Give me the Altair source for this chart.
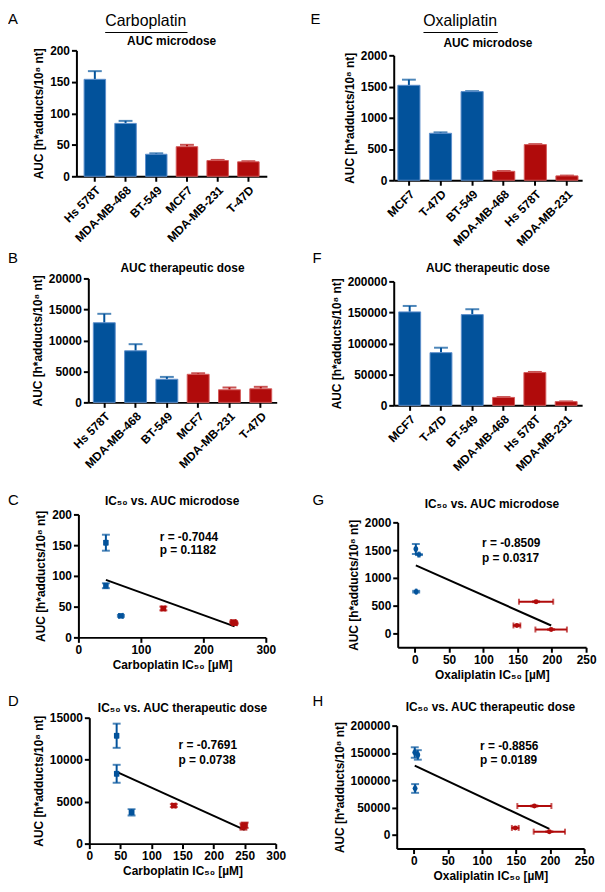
import altair as alt
import pandas as pd

# ---------------- data ----------------
carbo_cells = ["Hs 578T", "MDA-MB-468", "BT-549", "MCF7", "MDA-MB-231", "T-47D"]
carbo_groups = ["sensitive", "sensitive", "sensitive", "resistant", "resistant", "resistant"]
carbo_auc_micro = [154, 84, 35, 47, 25, 23]
carbo_auc_micro_err = [13, 4, 1.5, 3, 1, 1]
carbo_auc_ther = [12850, 8320, 3730, 4530, 2030, 2190]
carbo_auc_ther_err = [1440, 1070, 380, 170, 370, 320]
carbo_ic50 = [44, 44, 68, 136, 248, 250]
carbo_ic50_err = [2, 2, 3, 3, 4, 4]

oxa_cells = ["MCF7", "T-47D", "BT-549", "MDA-MB-468", "Hs 578T", "MDA-MB-231"]
oxa_groups = ["sensitive", "sensitive", "sensitive", "resistant", "resistant", "resistant"]
oxa_auc_micro = [1520, 752, 1419, 143, 571, 70]
oxa_auc_micro_err = [90, 15, 8, 5, 8, 5]
oxa_auc_ther = [150800, 85000, 146400, 12800, 52900, 6000]
oxa_auc_ther_err = [9600, 8000, 8700, 600, 1000, 400]
oxa_ic50 = [1.5, 2, 6, 149, 177, 199]
oxa_ic50_err = [0.5, 0.5, 1, 5, 25, 23]

# tick labels
carbo_micro_ticks = [0, 50, 100, 150, 200]
carbo_ther_ticks = [0, 5000, 10000, 15000, 20000]
oxa_micro_ticks = [0, 500, 1000, 1500, 2000]
oxa_ther_ticks = [0, 50000, 100000, 150000, 200000]
carbo_c_xticks = [0, 100, 200, 300]
carbo_c_yticks = [0, 50, 100, 150, 200]
carbo_d_xticks = [0, 50, 100, 150, 200, 250, 300]
carbo_d_yticks = [0, 5000, 10000, 15000]
oxa_xticks = [0, 50, 100, 150, 200, 250]
oxa_g_yticks = [0, 500, 1000, 1500, 2000]
oxa_h_yticks = [0, 50000, 100000, 150000, 200000]

# axis extents
carbo_c_xdom = [0, 300]
carbo_c_ydom = [0, 200]
carbo_d_xdom = [0, 300]
carbo_d_ydom = [0, 15000]
oxa_xdom = [-25, 250]
oxa_g_ydom = [-250, 2000]
oxa_h_ydom = [-25000, 200000]

# correlation statistics
stats_c = ["r  = -0.7044", "p = 0.1182"]
stats_d = ["r  = -0.7691", "p = 0.0738"]
stats_g = ["r  = -0.8509", "p = 0.0317"]
stats_h = ["r  = -0.8856", "p = 0.0189"]

# ---------------- style ----------------
FONT = "Liberation Sans, Arial, sans-serif"
BLUE = "#02529b"
RED = "#b00b0b"
BLUE_EDGE = "#5d8fcb"
RED_EDGE = "#d35a5a"
YTITLE = "AUC [h*adducts/10\u2078 nt]"

# grid cells (absolute page pixels)
COL_L = [8, 300]
COL_W = [292, 297]
ROW_T = [8, 246, 484, 690]
ROW_H = [238, 238, 206, 194]

color = alt.Color("grp:N", scale=alt.Scale(domain=["sensitive", "resistant"], range=[BLUE, RED]), legend=None)
stroke = alt.Stroke("grp:N", scale=alt.Scale(domain=["sensitive", "resistant"], range=[BLUE_EDGE, RED_EDGE]), legend=None)

one = pd.DataFrame({"k": [0]})


def frame(g):
    """offsets of the plot rectangle inside its grid cell"""
    ox = g["left"] - COL_L[g["col"]]
    oy = g["top"] - ROW_T[g["row"]]
    return ox, oy, COL_W[g["col"]], ROW_H[g["row"]]


def txt(s, x, y, size=12, weight="bold", align="left"):
    return alt.Chart(pd.DataFrame({"t": [s]})).mark_text(
        font=FONT, fontSize=size, fontWeight=weight, align=align, baseline="alphabetic", color="black"
    ).encode(text="t:N", x=alt.value(x), y=alt.value(y))


def decorations(g, title, letter):
    ox, oy, _, _ = frame(g)
    layers = [
        txt(letter, ox + g["lx"], oy + g["ly"], size=15, weight="normal"),
        txt(title, ox + g["w"] / 2, oy + g["ty"], size=12, weight="bold", align="center"),
    ]
    if "heading" in g:
        hx, hy, u1, u2, uy = g["hpos"]
        layers.append(txt(g["heading"], ox + hx, oy + hy, size=16, weight="normal", align="center"))
        layers.append(alt.Chart(one).mark_rule(color="black", strokeWidth=1.2).encode(
            x=alt.value(ox + u1), x2=alt.value(ox + u2), y=alt.value(oy + uy)))
    return layers


def bar_panel(cells, groups, vals, errs, yticks, title, letter, g):
    ox, oy, cw, ch = frame(g)
    df = pd.DataFrame({"cell": cells, "grp": groups, "auc": vals, "err": errs})
    base = alt.Chart(df).transform_calculate(hi="datum.auc + datum.err")
    xenc = alt.X("cell:N", sort=cells,
                 scale=alt.Scale(paddingInner=0.3, paddingOuter=g["po"], range=[ox, ox + g["w"]]),
                 axis=alt.Axis(title=None, labelAngle=-45, labelOverlap=False, labelPadding=3,
                               offset=oy + g["h"] - ch))

    def Y(f):
        return alt.Y(f + ":Q", scale=alt.Scale(domain=[yticks[0], yticks[-1]], nice=False,
                                               range=[oy + g["h"], oy]),
                     axis=alt.Axis(values=yticks, title=YTITLE, format="d", labelFlush=False,
                                   offset=-ox))

    rule = base.mark_rule(strokeWidth=2).encode(x=xenc, y=Y("auc"), y2="hi:Q", color=color)
    cap = base.mark_tick(orient="horizontal", size=14, thickness=2).encode(x=xenc, y=Y("hi"), color=color)
    bars = base.mark_bar(strokeWidth=1).encode(x=xenc, y=Y("auc"), color=color, stroke=stroke)
    return alt.layer(rule, cap, bars, *decorations(g, title, letter)).properties(width=cw, height=ch)


def scatter_panel(cells, groups, ic50, ic50_err, auc, auc_err, xticks, xdom, yticks, ydom,
                  xtitle, title, letter, stats, shape, size, g):
    ox, oy, cw, ch = frame(g)
    df = pd.DataFrame({"cell": cells, "grp": groups, "ic50": ic50, "xe": ic50_err,
                       "auc": auc, "ye": auc_err})
    base = alt.Chart(df).transform_calculate(
        xlo="datum.ic50 - datum.xe", xhi="datum.ic50 + datum.xe",
        ylo="datum.auc - datum.ye", yhi="datum.auc + datum.ye")

    def X(f):
        return alt.X(f + ":Q", scale=alt.Scale(domain=xdom, nice=False, zero=False, range=[ox, ox + g["w"]]),
                     axis=alt.Axis(values=xticks, title=xtitle, format="d", labelFlush=False,
                                   labelOverlap=False, offset=oy + g["h"] - ch))

    def Y(f):
        return alt.Y(f + ":Q", scale=alt.Scale(domain=ydom, nice=False, zero=False, range=[oy + g["h"], oy]),
                     axis=alt.Axis(values=yticks, title=YTITLE, format="d", labelFlush=False,
                                   labelOverlap=False, offset=-ox))

    reg = alt.Chart(df).transform_regression("ic50", "auc").mark_line(
        color="black", strokeWidth=2).encode(x=X("ic50"), y=Y("auc"))
    xrule = base.mark_rule(strokeWidth=2).encode(x=X("xlo"), x2="xhi:Q", y=Y("auc"), color=color)
    xcap1 = base.mark_tick(orient="vertical", size=6, thickness=2).encode(x=X("xlo"), y=Y("auc"), color=color)
    xcap2 = base.mark_tick(orient="vertical", size=6, thickness=2).encode(x=X("xhi"), y=Y("auc"), color=color)
    yrule = base.mark_rule(strokeWidth=2).encode(x=X("ic50"), y=Y("ylo"), y2="yhi:Q", color=color)
    ycap1 = base.mark_tick(orient="horizontal", size=8, thickness=2).encode(x=X("ic50"), y=Y("ylo"), color=color)
    ycap2 = base.mark_tick(orient="horizontal", size=8, thickness=2).encode(x=X("ic50"), y=Y("yhi"), color=color)
    pts = base.mark_point(filled=True, shape=shape, size=size, opacity=1).encode(
        x=X("ic50"), y=Y("auc"), color=color)
    sx, sy1, sy2 = g["spos"]
    layers = [reg, xrule, xcap1, xcap2, yrule, ycap1, ycap2, pts,
              txt(stats[0], ox + sx, oy + sy1, size=12), txt(stats[1], ox + sx, oy + sy2, size=12)]
    layers += decorations(g, title, letter)
    return alt.layer(*layers).properties(width=cw, height=ch)


# plot rectangles (absolute page pixels) and label offsets relative to them
G_A = dict(col=0, row=0, left=77, top=46, w=192, h=127, po=0.25, lx=-69, ly=-27, ty=-5,
           heading="Carboplatin", hpos=(70, -25, 29, 112, -18))
G_E = dict(col=1, row=0, left=397, top=51, w=190, h=126, po=0.13, lx=-84, ly=-32, ty=-8,
           heading="Oxaliplatin", hpos=(67, -30, 30, 105, -23))
G_B = dict(col=0, row=1, left=89, top=276, w=190, h=125, po=0.16, lx=-81, ly=-16, ty=-6)
G_F = dict(col=1, row=1, left=397, top=279, w=190, h=125, po=0.16, lx=-82, ly=-19, ty=-9)
G_C = dict(col=0, row=2, left=79, top=514, w=189, h=124, lx=-71, ly=-9, ty=-9, spos=(82, 27, 40))
G_G = dict(col=1, row=2, left=401, top=522, w=190, h=126, lx=-86, ly=-18, ty=-14, spos=(85, 25, 40))
G_D = dict(col=0, row=3, left=90, top=719, w=188, h=127, lx=-82, ly=-12, ty=-6, spos=(90, 32, 47))
G_H = dict(col=1, row=3, left=400, top=727, w=189, h=124, lx=-85, ly=-20, ty=-15, spos=(84, 25, 39))

pA = bar_panel(carbo_cells, carbo_groups, carbo_auc_micro, carbo_auc_micro_err, carbo_micro_ticks,
               "AUC microdose", "A", G_A)
pB = bar_panel(carbo_cells, carbo_groups, carbo_auc_ther, carbo_auc_ther_err, carbo_ther_ticks,
               "AUC therapeutic dose", "B", G_B)
pE = bar_panel(oxa_cells, oxa_groups, oxa_auc_micro, oxa_auc_micro_err, oxa_micro_ticks,
               "AUC microdose", "E", G_E)
pF = bar_panel(oxa_cells, oxa_groups, oxa_auc_ther, oxa_auc_ther_err, oxa_ther_ticks,
               "AUC therapeutic dose", "F", G_F)

pC = scatter_panel(carbo_cells, carbo_groups, carbo_ic50, carbo_ic50_err, carbo_auc_micro,
                   carbo_auc_micro_err, carbo_c_xticks, carbo_c_xdom, carbo_c_yticks, carbo_c_ydom,
                   "Carboplatin IC\u2085\u2080 [\u00b5M]", "IC\u2085\u2080 vs. AUC microdose", "C",
                   stats_c, "square", 30, G_C)
pD = scatter_panel(carbo_cells, carbo_groups, carbo_ic50, carbo_ic50_err, carbo_auc_ther,
                   carbo_auc_ther_err, carbo_d_xticks, carbo_d_xdom, carbo_d_yticks, carbo_d_ydom,
                   "Carboplatin IC\u2085\u2080 [\u00b5M]", "IC\u2085\u2080 vs. AUC therapeutic dose", "D",
                   stats_d, "square", 30, G_D)
pG = scatter_panel(oxa_cells, oxa_groups, oxa_ic50, oxa_ic50_err, oxa_auc_micro,
                   oxa_auc_micro_err, oxa_xticks, oxa_xdom, oxa_g_yticks, oxa_g_ydom,
                   "Oxaliplatin IC\u2085\u2080 [\u00b5M]", "IC\u2085\u2080 vs. AUC microdose", "G",
                   stats_g, "circle", 25, G_G)
pH = scatter_panel(oxa_cells, oxa_groups, oxa_ic50, oxa_ic50_err, oxa_auc_ther,
                   oxa_auc_ther_err, oxa_xticks, oxa_xdom, oxa_h_yticks, oxa_h_ydom,
                   "Oxaliplatin IC\u2085\u2080 [\u00b5M]", "IC\u2085\u2080 vs. AUC therapeutic dose", "H",
                   stats_h, "circle", 25, G_H)

chart = alt.concat(pA, pE, pB, pF, pC, pG, pD, pH, columns=2, align="each", spacing=0,
                   bounds="flush").properties(padding=0).configure_view(stroke=None).configure_axis(
    domainColor="black", domainWidth=2, tickColor="black", tickWidth=2, tickSize=5,
    labelFont=FONT, labelFontSize=12, labelFontWeight="bold", labelColor="black", labelPadding=2,
    titleFont=FONT, titleFontSize=12, titleFontWeight="bold", titleColor="black", titlePadding=4,
    grid=False)

chart.save("out.html", embed_options={"renderer": "svg", "actions": False})
